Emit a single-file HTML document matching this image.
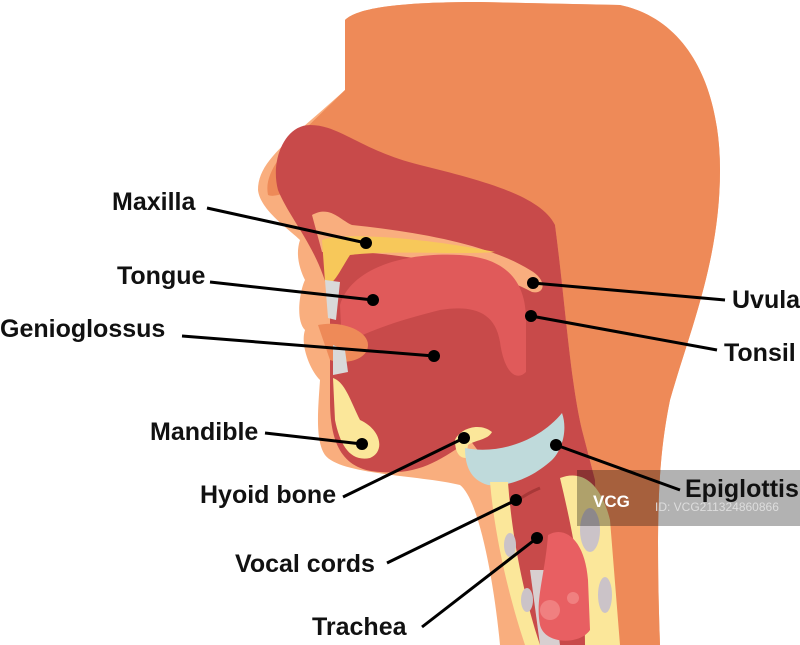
<!DOCTYPE html>
<html><head><style>
html,body{margin:0;padding:0;background:#fff;width:800px;height:645px;overflow:hidden}
svg{display:block}
text{font-family:"Liberation Sans",sans-serif;font-size:25px;fill:#111;font-weight:bold}
</style></head><body>
<svg width="800" height="645" viewBox="0 0 800 645" xmlns="http://www.w3.org/2000/svg">
<path d="M345,20 C360,5 420,2 480,2 L620,5 C690,20 720,90 720,170 C720,260 690,330 670,400 C660,450 655,500 660,645 L500,645 C495,590 480,500 460,485 C420,475 340,475 325,455 C315,440 318,410 320,380 C310,370 300,345 305,330 C295,320 300,290 305,280 C300,270 295,255 300,240 C290,230 260,210 258,190 C258,160 290,140 345,90 Z" fill="#F9AE7E"/>
<path d="M345,20 C360,5 420,2 480,2 L620,5 C690,20 720,90 720,170 C720,260 690,330 670,400 C660,450 655,500 660,645 L600,645 L595,480 L582,430 C570,380 565,300 555,225 C520,200 400,190 330,190 C300,180 280,200 268,195 C262,165 300,135 345,90 Z" fill="#EE8A58"/>
<path d="M278,190 C270,160 285,125 310,125 C340,125 360,150 420,165 C480,180 540,195 555,225 C565,300 570,380 582,430 L595,480 L600,645 L540,645 C520,600 505,540 500,480 L470,440 C440,460 420,475 380,472 C340,470 330,440 330,400 L330,300 C320,250 290,220 278,190 Z" fill="#C84A4A"/>
<path d="M312,215 C330,205 340,220 352,225 C420,232 490,245 530,270 C548,280 545,295 532,292 C500,275 440,258 360,252 L322,252 Z" fill="#F9AE7E"/>
<path d="M322,240 C340,232 420,237 495,252 C460,255 390,250 350,255 C340,270 332,290 325,282 Z" fill="#F7C85A"/>
<path d="M340,305 C350,270 400,252 460,255 C510,258 526,285 526,320 L526,372 C516,382 504,372 500,342 C495,310 470,305 440,310 C400,320 370,330 342,345 Z" fill="#E05A5A"/>
<path d="M325,280 L340,282 L336,320 L328,318 Z" fill="#D9D9D9"/>
<path d="M318,325 C340,320 368,330 368,345 C368,360 345,365 330,360 Z" fill="#EE8A58"/>
<path d="M333,345 L345,350 L348,372 L333,375 Z" fill="#D9D9D9"/>
<path d="M333,378 C345,382 350,400 360,420 C382,430 385,452 370,458 C350,462 340,445 335,420 Z" fill="#FBE79A"/>
<path d="M455,440 C460,428 480,422 492,432 C488,440 475,440 468,445 L466,458 C458,458 455,450 455,440 Z" fill="#FBE79A"/>
<path d="M465,448 C500,455 540,440 562,413 C568,430 562,450 552,460 C530,480 505,487 488,485 C470,480 465,465 465,448 Z" fill="#BFDADB"/>
<path d="M490,482 L508,482 C512,540 525,600 540,645 L525,645 C510,600 495,540 490,482 Z" fill="#FBE79A"/>
<path d="M560,478 C580,470 600,480 610,520 L620,645 L585,645 C585,600 575,540 560,478 Z" fill="#FBE79A"/>
<ellipse cx="590" cy="530" rx="10" ry="22" fill="#CBC3C8"/>
<ellipse cx="605" cy="595" rx="7" ry="18" fill="#CBC3C8"/>
<ellipse cx="510" cy="545" rx="6" ry="12" fill="#CBC3C8"/>
<ellipse cx="527" cy="600" rx="6" ry="12" fill="#CBC3C8"/>
<path d="M530,570 L550,570 L560,645 L540,645 Z" fill="#D8CFD0"/>
<path d="M548,535 C565,525 585,540 588,580 L590,630 C580,645 545,645 540,625 C535,600 545,575 548,535 Z" fill="#E85F62"/>
<circle cx="573" cy="598" r="6" fill="#F08080"/>
<circle cx="550" cy="610" r="10" fill="#F08080"/>
<path d="M515,502 C525,495 535,490 540,488" stroke="#A83838" stroke-width="3" fill="none"/>
<rect x="577" y="470" width="223" height="56" fill="rgba(0,0,0,0.3)"/>
<text x="593" y="507" style="font-size:17px;fill:#fff">VCG</text>
<text x="655" y="511" style="font-size:12px;fill:#ddd;font-weight:normal">ID: VCG211324860866</text>
<g stroke="#000" stroke-width="3">
<line x1="207" y1="208" x2="366" y2="243"/>
<line x1="210" y1="282" x2="373" y2="300"/>
<line x1="182" y1="336" x2="434" y2="356"/>
<line x1="265" y1="433" x2="362" y2="444"/>
<line x1="343" y1="497" x2="464" y2="438"/>
<line x1="387" y1="563" x2="516" y2="500"/>
<line x1="422" y1="627" x2="537" y2="538"/>
<line x1="533" y1="283" x2="725" y2="300"/>
<line x1="531" y1="316" x2="717" y2="350"/>
<line x1="556" y1="445" x2="680" y2="490"/>
</g>
<g fill="#000">
<circle cx="366" cy="243" r="6"/><circle cx="373" cy="300" r="6"/><circle cx="434" cy="356" r="6"/>
<circle cx="362" cy="444" r="6"/><circle cx="464" cy="438" r="6"/><circle cx="516" cy="500" r="6"/>
<circle cx="537" cy="538" r="6"/><circle cx="533" cy="283" r="6"/><circle cx="531" cy="316" r="6"/>
<circle cx="556" cy="445" r="6"/>
</g>
<text x="112" y="210">Maxilla</text>
<text x="117" y="284">Tongue</text>
<text x="0" y="337">Genioglossus</text>
<text x="150" y="440">Mandible</text>
<text x="200" y="503">Hyoid bone</text>
<text x="235" y="572">Vocal cords</text>
<text x="312" y="635">Trachea</text>
<text x="732" y="308">Uvula</text>
<text x="724" y="361">Tonsil</text>
<text x="685" y="497">Epiglottis</text>
</svg>
</body></html>
